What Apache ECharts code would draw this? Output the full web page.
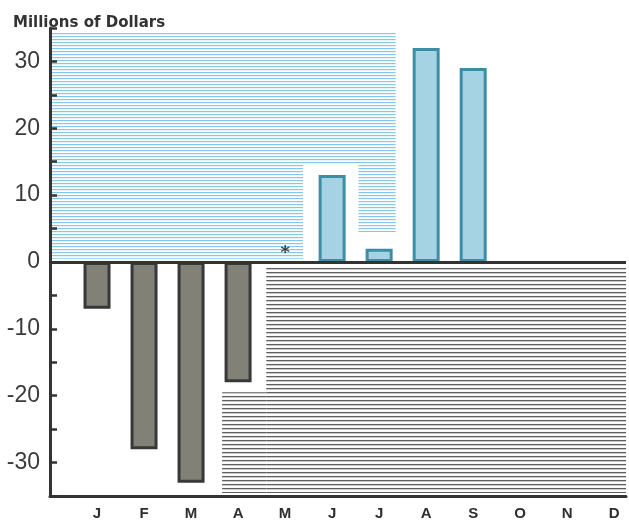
<!DOCTYPE html>
<html>
<head>
<meta charset="utf-8">
<script src="https://cdn.jsdelivr.net/npm/echarts@6/dist/echarts.min.js"></script>
<style>
  html, body { margin: 0; padding: 0; background: #ffffff; }
  #chart { width: 629px; height: 521px; }
</style>
</head>
<body>
<div id="chart"></div>
<script>
// Monthly balance, millions of dollars
const months = ['J', 'F', 'M', 'A', 'M', 'J', 'J', 'A', 'S', 'O', 'N', 'D'];
const values = [-7, -28, -33, -18, null, 13, 2, 32, 29, null, null, null];
// months marked with a footnote asterisk (less than $0.5 million)
const footnoteMonths = [5];
const yTickValues = [-30, -20, -10, 0, 10, 20, 30];

// shaded background bands, in axis units: [xStart, xEnd, yStart, yEnd]
const upperBand = [
  [0, 5.38, 0.5, 34.4],
  [5.38, 7.35, 14.6, 34.4],
  [6.56, 7.35, 4.5, 14.6]
];
const lowerBand = [
  [4.6, 12.25, -0.75, -34.55],
  [3.66, 4.6, -19.5, -34.55]
];

// horizontal line-screen patterns
function stripes(rows) {
  const c = document.createElement('canvas');
  c.width = 8;
  c.height = rows.length;
  const ctx = c.getContext('2d');
  rows.forEach((col, i) => { ctx.fillStyle = col; ctx.fillRect(0, i, 8, 1); });
  return { image: c, repeat: 'repeat' };
}
const blueScreen = stripes(['#86c6e6', '#e8f4fa', '#ffffff']);
const greyScreen = stripes(['#5e5e5e', '#cacaca', '#ffffff', '#fafafa']);

function toAreas(list) {
  return list.map(r => [{ coord: [r[0], r[2]] }, { coord: [r[1], r[3]] }]);
}

const barData = values.map((v, i) => {
  if (v === null) return [i + 1, null];
  const up = v >= 0;
  return {
    value: [i + 1, v],
    itemStyle: {
      color: up ? '#a6d3e4' : '#818178',
      borderColor: up ? '#3d8ea5' : '#383838',
      borderWidth: 3
    }
  };
});

const chart = echarts.init(document.getElementById('chart'), null, { renderer: 'canvas' });
chart.setOption({
  animation: false,
  backgroundColor: '#ffffff',
  title: {
    text: 'Millions of Dollars',
    left: 8, top: 11,
    textStyle: { fontFamily: 'DejaVu Sans', fontWeight: 'bold', fontSize: 15, color: '#333333' }
  },
  grid: { left: 50, right: 0, top: 28, bottom: 23, containLabel: false },
  xAxis: {
    type: 'value',
    min: 0, max: 12.25, interval: 1,
    z: 10,
    axisLine: { onZero: false, lineStyle: { color: '#333333', width: 3 } },
    axisTick: { show: false },
    splitLine: { show: false },
    axisLabel: {
      margin: 10,
      fontFamily: 'Liberation Sans', fontWeight: 'bold', fontSize: 15, color: '#2e2e2e',
      formatter: v => (Number.isInteger(v) && v >= 1 && v <= 12) ? months[v - 1] : ''
    }
  },
  yAxis: {
    type: 'value',
    min: -35, max: 35, interval: 5,
    z: 10,
    axisLine: { onZero: false, lineStyle: { color: '#333333', width: 3 } },
    axisTick: { inside: true, length: 7, lineStyle: { color: '#333333', width: 2.5 } },
    splitLine: { show: false },
    axisLabel: {
      margin: 10,
      fontFamily: 'Liberation Sans', fontSize: 23, color: '#3a3a3a',
      formatter: v => yTickValues.includes(v) ? String(v) : ''
    }
  },
  series: [
    {
      type: 'scatter', data: [], z: 1, silent: true,
      markArea: { silent: true, itemStyle: { color: blueScreen, borderWidth: 0 }, data: toAreas(upperBand) }
    },
    {
      type: 'scatter', data: [], z: 1, silent: true,
      markArea: { silent: true, itemStyle: { color: greyScreen, borderWidth: 0 }, data: toAreas(lowerBand) }
    },
    {
      type: 'bar',
      barWidth: 27,
      z: 3,
      data: barData,
      markLine: {
        silent: true, symbol: 'none', label: { show: false },
        lineStyle: { color: '#333333', width: 3, type: 'solid' },
        data: [{ yAxis: 0 }]
      }
    },
    {
      type: 'scatter',
      symbolSize: 0,
      z: 4,
      data: footnoteMonths.map(m => [m, 0]),
      label: {
        show: true, position: 'top', distance: 0,
        formatter: '*', fontFamily: 'DejaVu Sans', fontWeight: 'bold', fontSize: 18, color: '#222222'
      }
    }
  ]
});
</script>
</body>
</html>
